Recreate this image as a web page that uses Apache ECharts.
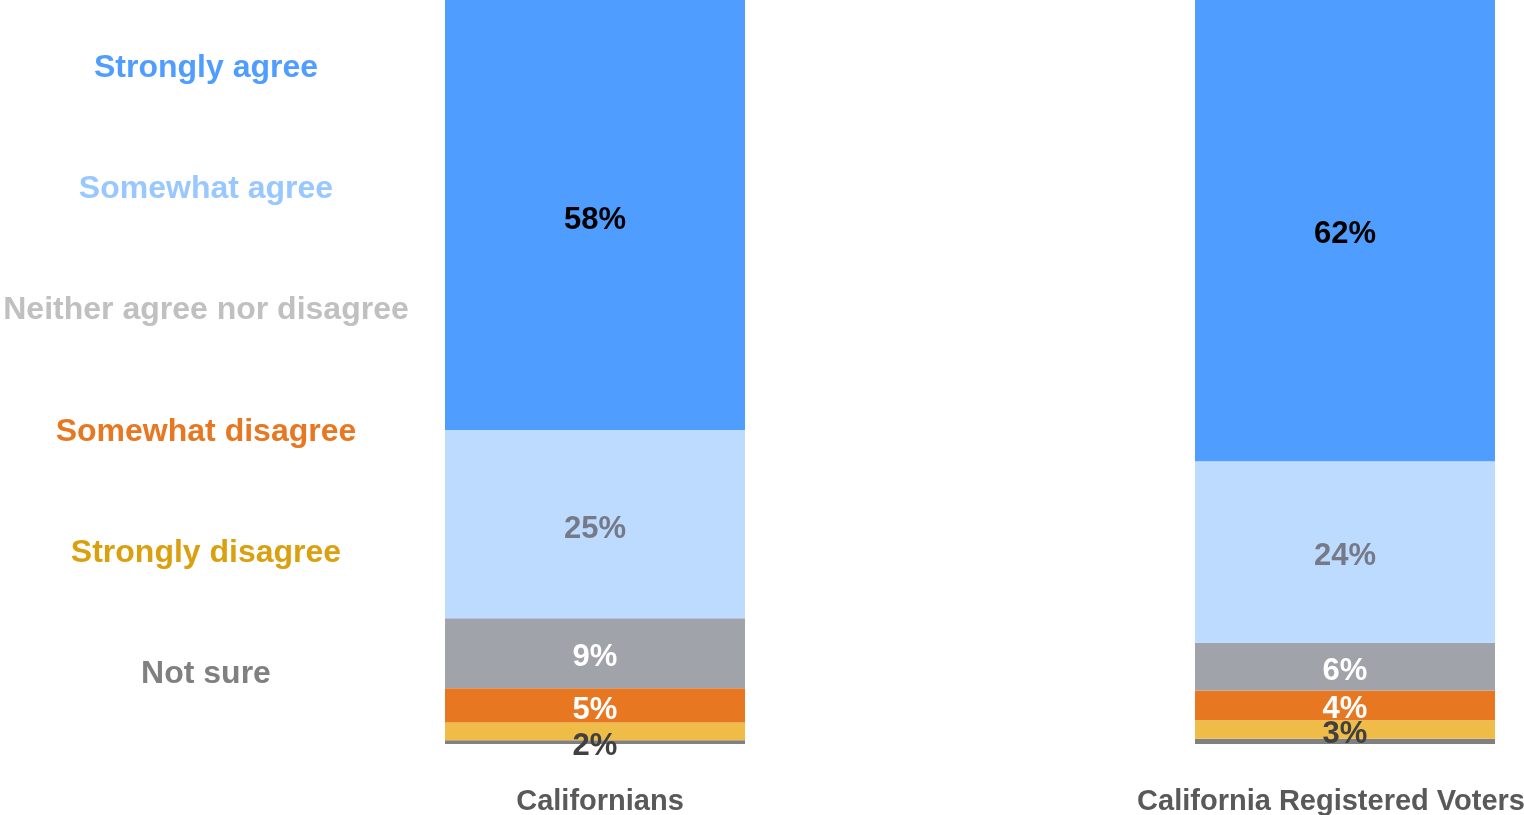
<!DOCTYPE html>
<html>
<head>
<meta charset="utf-8">
<script src="https://cdn.jsdelivr.net/npm/echarts@6/dist/echarts.min.js"></script>
<style>
html,body{margin:0;padding:0;background:#fff;}
#chart{width:1524px;height:815px;}
</style>
</head>
<body>
<div id="chart"></div>
<script>
const categories = ['Californians', 'California Registered Voters'];
const seriesNames = ['Strongly agree', 'Somewhat agree', 'Neither agree nor disagree', 'Somewhat disagree', 'Strongly disagree', 'Not sure'];
const stronglyAgree = [57.8, 62.0];
const somewhatAgree = [25.3, 24.4];
const neither = [9.4, 6.4];
const somewhatDisagree = [4.6, 4.0];
const stronglyDisagree = [2.4, 2.5];
const notSure = [0.5, 0.7];
const valueSets = [stronglyAgree, somewhatAgree, neither, somewhatDisagree, stronglyDisagree, notSure];

const barColors = ['#4F9DFF', '#BDDBFF', '#A1A3AB', '#E87722', '#F0BC48', '#808080'];
const legendColors = ['#4F9DFF', '#99C7FF', '#C0C0C0', '#E87722', '#DAA010', '#808080'];
const labelColors = ['#000000', '#767A88', '#FFFFFF', '#FFFFFF', '#404040', '#404040'];
const showLabel = [true, true, true, true, true, false];
// per-category label vertical offsets (small segments)
const labelOffsets = [[5,4],[5,4],[4,5],[5,4],[15,5],[0,0]];

const FONT = '"Liberation Sans", Arial, sans-serif';

// build series bottom-up so "Strongly agree" sits at the top of the stack
const order = [5, 4, 3, 2, 1, 0];
const series = order.map(i => ({
  name: seriesNames[i],
  type: 'bar',
  stack: 'total',
  barWidth: 300,
  clip: false,
  itemStyle: { color: barColors[i] },
  label: {
    show: showLabel[i],
    position: 'inside',
    color: labelColors[i],
    fontFamily: FONT,
    fontWeight: 'bold',
    fontSize: 31,
    formatter: p => Math.round(p.value) + '%'
  },
  data: valueSets[i].map((v, j) => ({
    value: v,
    label: { offset: [0, labelOffsets[i][j]] }
  }))
}));

const chart = echarts.init(document.getElementById('chart'), null, { renderer: 'canvas' });
chart.setOption({
  animation: false,
  backgroundColor: '#ffffff',
  legend: {
    orient: 'vertical',
    left: -10,
    top: 43,
    icon: 'none',
    itemWidth: 0,
    itemHeight: 40,
    itemGap: 85.3,
    selectedMode: false,
    data: seriesNames.map((n, i) => ({
      name: n,
      textStyle: {
        rich: {
          c: {
            width: 412, align: 'center', color: legendColors[i],
            fontFamily: FONT, fontWeight: 'bold', fontSize: 32, lineHeight: 41
          }
        }
      }
    })),
    formatter: name => '{c|' + name + '}'
  },
  grid: { left: 595, right: 179, top: 0, bottom: 71, containLabel: false, outerBoundsMode: 'none' },
  xAxis: {
    type: 'category',
    boundaryGap: false,
    data: categories.map((c, j) => ({
      value: c,
      textStyle: { padding: j === 0 ? [0, 0, 0, 10] : [0, 28, 0, 0] }
    })),
    axisLine: { show: false },
    axisTick: { show: false },
    axisLabel: {
      margin: 43,
      color: '#595959',
      fontFamily: FONT,
      fontWeight: 'bold',
      fontSize: 29,
      interval: 0,
      hideOverlap: false
    }
  },
  yAxis: {
    type: 'value',
    min: 0,
    max: 100,
    show: false,
    splitLine: { show: false }
  },
  series: series
});
</script>
</body>
</html>
